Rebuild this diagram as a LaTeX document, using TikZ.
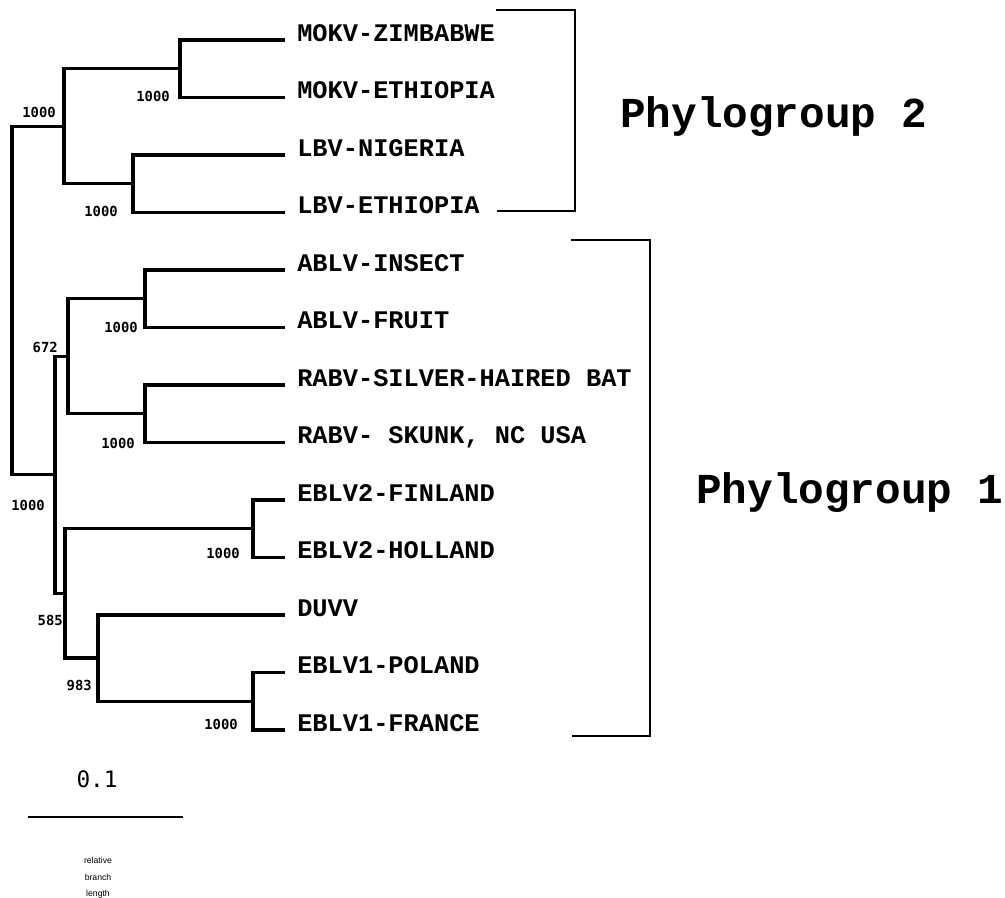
\documentclass[tikz,border=0pt]{standalone}
\usepackage{fontspec}
\setmonofont{Liberation Mono}
\setsansfont{Liberation Sans}
\newfontfamily\digitfont{DejaVu Sans Mono}
\usetikzlibrary{calc,positioning}

\begin{document}
\begin{tikzpicture}[
    x=0.75pt, y=-0.75pt,
    branch/.style={line width=2.5pt, line cap=rect},
    bracket/.style={line width=1.4pt},
    taxon/.style={font=\fontsize{19}{19}\selectfont\ttfamily\bfseries, anchor=base west, inner sep=0pt},
    boot/.style={font=\fontsize{10.4}{10.4}\selectfont\digitfont\bfseries, anchor=base east, inner sep=0pt},
    group/.style={font=\fontsize{32}{32}\selectfont\ttfamily\bfseries, anchor=base west, inner sep=0pt},
    legend/.style={font=\fontsize{6.5}{6.5}\selectfont\sffamily, inner sep=0pt}
]
\useasboundingbox (0,0) rectangle (1005,897);

% Tips and taxon names
\foreach \name [count=\i from 0] in {MOKV-ZIMBABWE, MOKV-ETHIOPIA, LBV-NIGERIA, LBV-ETHIOPIA,
    ABLV-INSECT, ABLV-FRUIT, RABV-SILVER-HAIRED BAT, {RABV- SKUNK, NC USA},
    EBLV2-FINLAND, EBLV2-HOLLAND, DUVV, EBLV1-POLAND, EBLV1-FRANCE} {
    \coordinate (t\i) at (283, 40+57.5*\i);
    \node[taxon] (l\i) at ($(t\i)+(14,1)$) {\name};
}

% Inner nodes
\coordinate (nMOKV) at (180, 68.75);
\coordinate (nLBV) at (133, 183.75);
\coordinate (nPG2) at (64, 126.25);
\coordinate (nABLV) at (145, 298.75);
\coordinate (nRABV) at (145, 413.75);
\coordinate (n672) at (68, 356.25);
\coordinate (nEBLV2) at (253, 528.75);
\coordinate (nEBLV1) at (253, 701.25);
\coordinate (n983) at (98, 658.1);
\coordinate (n585) at (65, 593.4);
\coordinate (nPG1) at (55, 474.8);
\coordinate (root) at (12, 300.5);

% Branches
\foreach \p/\c in {nMOKV/t0, nMOKV/t1, nLBV/t2, nLBV/t3, nPG2/nMOKV, nPG2/nLBV,
    nABLV/t4, nABLV/t5, nRABV/t6, nRABV/t7, n672/nABLV, n672/nRABV,
    nEBLV2/t8, nEBLV2/t9, nEBLV1/t11, nEBLV1/t12, n983/t10, n983/nEBLV1,
    n585/nEBLV2, n585/n983, nPG1/n672, nPG1/n585, root/nPG2, root/nPG1} {
    \draw[branch] (\p) |- (\c);
}

% Bootstrap values
\foreach \v/\x/\y [count=\i] in {1000/56/117.5, 1000/170/101, 1000/118/216.5,
    1000/138/332.5, 672/58/352.5, 1000/135/448.5, 1000/45/510.5,
    1000/240/558.5, 585/63/625.5, 983/92/690.5, 1000/238/729} {
    \node[boot] (b\i) at (\x,\y) {\v};
}

% Phylogroup brackets
\draw[bracket] (496,10) -| (575,211) -- (497,211);
\draw[bracket] (571,240) -| (650,736) -- (572,736);
\node[group] (pg2) at (620,127) {Phylogroup 2};
\node[group] (pg1) at (696,503) {Phylogroup 1};

% Scale bar
\coordinate (sbL) at (28,817);
\coordinate (sbR) at (183,817);
\draw[line width=2.2pt] (sbL) -- (sbR);
\node[font=\fontsize{17}{17}\selectfont\digitfont, inner sep=0pt] (sbval) at (97,779) {0.1};
\foreach \w [count=\i] in {relative, branch, length} {
    \node[legend] (lg\i) at (98, 843+17*\i) {\w};
}
\end{tikzpicture}
\end{document}
